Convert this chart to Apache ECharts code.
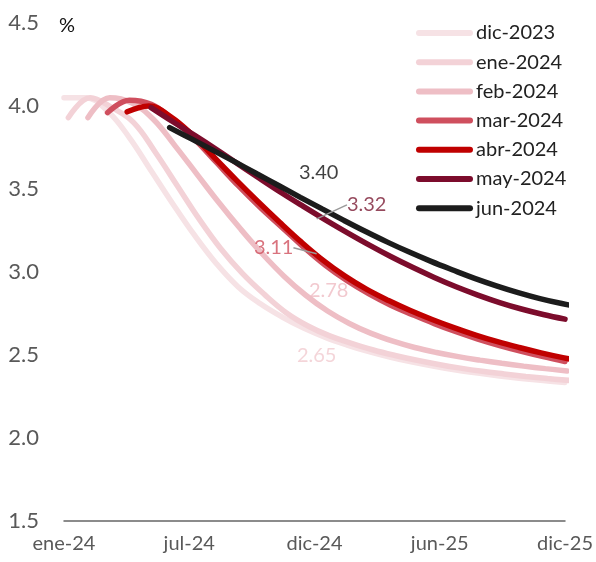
<!DOCTYPE html>
<html><head><meta charset="utf-8">
<script src="https://cdn.jsdelivr.net/npm/echarts@6/dist/echarts.min.js"></script>
<style>html,body{margin:0;padding:0;background:#fff}#c{width:596px;height:562px}</style>
</head><body><div id="c"></div>
<script>
// ---- data ----
const seriesNames = ['dic-2023','ene-2024','feb-2024','mar-2024','abr-2024','may-2024','jun-2024'];
// month (0 = ene-24) at which each forecast path starts; points are monthly after that
const startMonths = [0, 0.2, 1.1, 2.0, 2.9, 4.0, 4.85];
const dic2023 = [4.05,4.05,3.97,3.81,3.61,3.41,3.22,3.05,2.91,2.81,2.73,2.662,2.606,2.56,2.52,2.486,2.457,2.432,2.41,2.391,2.374,2.359,2.346,2.335];
const ene2024 = [3.93,4.05,3.99,3.90,3.72,3.52,3.32,3.14,2.99,2.865,2.755,2.675,2.615,2.57,2.53,2.497,2.468,2.443,2.421,2.402,2.386,2.371,2.358,2.347];
const feb2024 = [3.93,4.05,4.02,3.92,3.76,3.59,3.42,3.26,3.11,2.975,2.86,2.765,2.69,2.63,2.583,2.545,2.515,2.49,2.469,2.45,2.433,2.418,2.404];
const mar2024 = [3.96,4.035,4.01,3.92,3.80,3.66,3.52,3.39,3.27,3.15,3.04,2.947,2.868,2.80,2.743,2.689,2.64,2.596,2.557,2.522,2.49,2.461];
const abr2024 = [3.965,4.00,3.935,3.825,3.69,3.555,3.425,3.30,3.18,3.07,2.975,2.895,2.828,2.768,2.714,2.665,2.62,2.58,2.545,2.513,2.484,2.458];
const may2024 = [3.99,3.905,3.823,3.738,3.65,3.562,3.476,3.394,3.314,3.237,3.163,3.093,3.028,2.967,2.911,2.861,2.816,2.777,2.744,2.716];
const jun2024 = [3.87,3.802,3.733,3.663,3.592,3.521,3.45,3.38,3.311,3.244,3.18,3.12,3.064,3.012,2.962,2.917,2.876,2.84,2.81,2.785];
const seriesValues = [dic2023, ene2024, feb2024, mar2024, abr2024, may2024, jun2024];

const xTickLabels = ['ene-24','jul-24','dic-24','jun-25','dic-25'];
const xMin = 0, xMax = 23, xStep = 5.75;
const yMin = 1.5, yMax = 4.5, yStep = 0.5;

// annotated values at dic-24
const annotMonth = 11.6;
const annotValues = [3.40, 3.32, 3.11, 2.78, 2.65];

// ---- styles ----
const seriesColors = ['#f6e2e5','#f3d2d7','#eebec5','#cf4f5e','#c00000','#7c0c2c','#1c1c1c'];
const annotColors = ['#111111','#7a1a33','#d0505e','#efbcc3','#f1cad0'];
const annotOffsets = [[2,-33],[50,-14],[-43,-6],[12,-18],[0,25]];
const annotLeader = [false,true,true,false,false];
const FONT = 'Lato';

const series = seriesNames.map((name, i) => ({
  name, type: 'line', smooth: 0.4, symbol: 'none', clip: true,
  lineStyle: { width: 5.5, color: seriesColors[i], cap: 'round' },
  itemStyle: { color: seriesColors[i] },
  data: seriesValues[i].map((v, k) => [startMonths[i] + k, v]),
  z: 2 + i
}));

series.push({
  name: 'annot', type: 'scatter', symbolSize: 0.1, silent: true, z: 20,
  data: annotValues.map((v, i) => ({
    value: [annotMonth, v],
    label: { color: annotColors[i] },
    labelLine: { show: annotLeader[i], lineStyle: { color: '#9a9a9a', width: 1.5 } }
  })),
  label: { show: true, position: 'inside', fontSize: 20, fontFamily: FONT,
           formatter: p => p.value[1].toFixed(2) },
  labelLayout: p => ({ dx: annotOffsets[p.dataIndex][0], dy: annotOffsets[p.dataIndex][1] })
});

const chart = echarts.init(document.getElementById('c'));
chart.setOption({
  animation: false,
  backgroundColor: '#fff',
  title: { text: '%', left: 59, top: 16, padding: 0,
           textStyle: { fontSize: 20, fontWeight: 'normal', color: '#111', fontFamily: FONT } },
  legend: {
    data: seriesNames, orient: 'vertical', left: 411, top: 18, itemGap: 9.2,
    itemWidth: 57, itemHeight: 6,
    icon: 'path://M3,0 L54,0 A3,3 0 0 1 54,6 L3,6 A3,3 0 0 1 3,0 Z',
    textStyle: { fontSize: 20, lineHeight: 20, color: '#222', fontFamily: FONT, padding: [0,0,0,-2] }
  },
  grid: { left: 64, right: 28, top: 23, bottom: 41, containLabel: false },
  xAxis: {
    type: 'value', min: xMin, max: xMax, interval: xStep,
    axisLine: { show: true, lineStyle: { color: '#666', width: 1.5 } },
    axisTick: { show: false }, splitLine: { show: false },
    axisLabel: { margin: 13, fontSize: 20, color: '#595959', fontFamily: FONT,
                 formatter: v => xTickLabels[Math.round((v - xMin) / xStep)] || '' ,
                 showMinLabel: true, showMaxLabel: true }
  },
  yAxis: {
    type: 'value', min: yMin, max: yMax, interval: yStep,
    axisLine: { show: false }, axisTick: { show: false }, splitLine: { show: false },
    axisLabel: { margin: 25, fontSize: 22, color: '#595959', fontFamily: FONT,
                 formatter: v => v.toFixed(1) }
  },
  series
});
</script></body></html>
